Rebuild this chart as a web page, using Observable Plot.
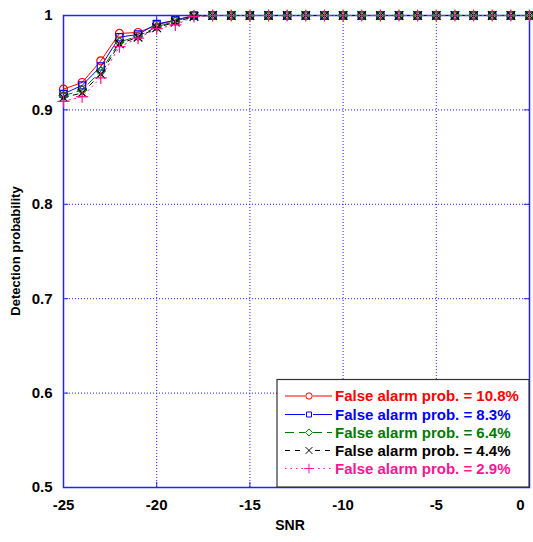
<!DOCTYPE html>
<html>
<head>
<meta charset="utf-8">
<script src="https://cdn.jsdelivr.net/npm/d3@7"></script>
<script src="https://cdn.jsdelivr.net/npm/@observablehq/plot@0.6"></script>
<style>
  html, body { margin: 0; padding: 0; background: #fff; }
  #chart svg { display: block; }
</style>
</head>
<body>
<div id="chart"></div>
<script>
const snr = [-25,-24,-23,-22,-21,-20,-19,-18,-17,-16,-15,-14,-13,-12,-11,-10,-9,-8,-7,-6,-5,-4,-3,-2,-1,0];
const pfa108 = [0.922,0.929,0.952,0.981,0.982,0.990,0.995,1,1,1,1,1,1,1,1,1,1,1,1,1,1,1,1,1,1,1];
const pfa83  = [0.917,0.926,0.946,0.977,0.980,0.991,0.995,1,1,1,1,1,1,1,1,1,1,1,1,1,1,1,1,1,1,1];
const pfa64  = [0.915,0.921,0.941,0.972,0.978,0.988,0.994,1,1,1,1,1,1,1,1,1,1,1,1,1,1,1,1,1,1,1];
const pfa44  = [0.913,0.918,0.938,0.970,0.977,0.987,0.993,0.999,1,1,1,1,1,1,1,1,1,1,1,1,1,1,1,1,1,1];
const pfa29  = [0.909,0.914,0.934,0.967,0.976,0.986,0.990,0.999,1,1,1,1,1,1,1,1,1,1,1,1,1,1,1,1,1,1];

const seriesNames = ["False alarm prob. = 10.8%","False alarm prob. = 8.3%","False alarm prob. = 6.4%","False alarm prob. = 4.4%","False alarm prob. = 2.9%"];
const seriesValues = [pfa108, pfa83, pfa64, pfa44, pfa29];
const seriesColors = ["#ff0000","#0000ff","#007a00","#000000","#ff1493"];
const seriesDash = [null, null, "9,5", "5,5", "1.5,4"];
const seriesSymbols = ["circle","square","diamond2","times","plus"];

const xTicks = [-25,-20,-15,-10,-5,0];
const yTicks = [0.5,0.6,0.7,0.8,0.9,1];
const xGrid = [-20,-15,-10,-5];
const yGrid = [0.6,0.7,0.8,0.9];

const axisBlue = "#2222ff";
const font = "'Liberation Sans', Arial, sans-serif";

const rows = [];
seriesValues.forEach((vals, i) => vals.forEach((v, j) => rows.push({snr: snr[j], p: v, s: i})));

const marks = [
  Plot.gridX(xGrid, {stroke: axisBlue, strokeOpacity: 1, strokeDasharray: "1,2", strokeWidth: 1}),
  Plot.gridY(yGrid, {stroke: axisBlue, strokeOpacity: 1, strokeDasharray: "1,2", strokeWidth: 1}),
  Plot.ruleX(xTicks, {x: d => d, y1: 0.5, y2: 0.5055, stroke: axisBlue}),
  Plot.ruleX(xTicks, {x: d => d, y1: 1, y2: 0.9945, stroke: axisBlue}),
  Plot.ruleY(yTicks, {y: d => d, x1: -25, x2: -24.72, stroke: axisBlue}),
  Plot.ruleY(yTicks, {y: d => d, x1: 0, x2: -0.28, stroke: axisBlue}),
  Plot.frame({stroke: axisBlue, strokeWidth: 1.5}),
  Plot.axisX({ticks: xTicks, tickSize: 0, tickPadding: 12, tickFormat: d => String(d), fontSize: 15, fontWeight: "bold", label: null}),
  Plot.axisY({ticks: yTicks, tickSize: 0, tickPadding: 11, tickFormat: d => String(d), fontSize: 15, fontWeight: "bold", label: null})
];
seriesValues.forEach((vals, i) => {
  const d = rows.filter(r => r.s === i);
  marks.push(Plot.line(d, {x: "snr", y: "p", stroke: seriesColors[i], strokeWidth: 1, strokeDasharray: seriesDash[i]}));
});
seriesValues.forEach((vals, i) => {
  const d = rows.filter(r => r.s === i);
  marks.push(Plot.dot(d, {x: "snr", y: "p", stroke: seriesColors[i], symbol: () => seriesSymbols[i], r: 4, strokeWidth: 1.2, fill: "none"}));
});

const chart = Plot.plot({
  width: 533,
  height: 542,
  marginLeft: 63,
  marginRight: 4,
  marginTop: 15,
  marginBottom: 55,
  style: {fontFamily: font, background: "#fff", overflow: "visible"},
  x: {domain: [-25, 0]},
  y: {domain: [0.5, 1]},
  symbol: {type: "identity"},
  marks
});

const svg = d3.select(chart);
// shift last x tick label (cut off at the figure's edge)
svg.selectAll("[aria-label='x-axis tick label'] text").each(function(){
  if (d3.select(this).text() === "0") d3.select(this).attr("dx", -9);
});
// axis titles
svg.append("text").attr("x", 290).attr("y", 530).attr("text-anchor", "middle")
  .attr("font-family", font).attr("font-size", 14).attr("font-weight", "bold").text("SNR");
svg.append("text").attr("transform", "translate(20,251) rotate(-90)").attr("text-anchor", "middle")
  .attr("font-family", font).attr("font-size", 13).attr("font-weight", "bold").text("Detection probability");

// legend
const lg = svg.append("g").attr("text-anchor", "start");
lg.append("rect").attr("x", 277).attr("y", 379.5).attr("width", 252).attr("height", 107.5)
  .attr("fill", "#fff").attr("stroke", "#333").attr("stroke-width", 1.2);
const rowY = [396, 414.5, 432.5, 450.5, 468.5];
const d3syms = [d3.symbolCircle, d3.symbolSquare2, d3.symbolDiamond2, d3.symbolTimes, d3.symbolPlus];
seriesNames.forEach((name, i) => {
  const y = rowY[i];
  lg.append("line").attr("x1", 285).attr("x2", 332).attr("y1", y).attr("y2", y)
    .attr("stroke", seriesColors[i]).attr("stroke-width", 1)
    .attr("stroke-dasharray", seriesDash[i]);
  lg.append("rect").attr("x", 305).attr("y", y - 5).attr("width", 8).attr("height", 10).attr("fill", "#fff");
  lg.append("path").attr("d", d3.symbol(d3syms[i], 32)()).attr("transform", `translate(309,${y})`)
    .attr("fill", "none").attr("stroke", seriesColors[i]).attr("stroke-width", 1);
  lg.append("text").attr("x", 335).attr("y", y).attr("dy", "0.36em").attr("text-anchor", "start")
    .attr("font-family", font).attr("font-size", 15).attr("font-weight", "bold")
    .attr("fill", seriesColors[i]).text(name);
});

document.getElementById("chart").appendChild(chart);
</script>
</body>
</html>
